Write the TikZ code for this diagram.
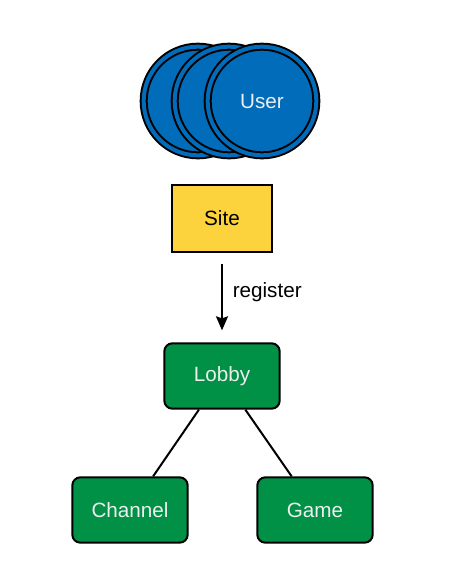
\documentclass[tikz,border=0pt]{standalone}
\usepackage{fontspec}
\setmainfont{Liberation Sans}
\usetikzlibrary{arrows.meta}
\definecolor{userblue}{RGB}{0,108,186}
\definecolor{siteyellow}{RGB}{252,211,61}
\definecolor{lobbygreen}{RGB}{0,145,70}
\definecolor{paletext}{RGB}{238,238,238}
\tikzset{
    every node/.style={font=\fontsize{15.5}{18}\selectfont},
    userdisc/.style={circle, draw=black, fill=userblue, line width=1.5pt,
        double=userblue, double distance=3pt, minimum size=81.5pt, text=paletext},
    sitebox/.style={rectangle, draw=black, fill=siteyellow, line width=1.5pt,
        minimum width=75pt, minimum height=50pt},
    greenbox/.style={rectangle, rounded corners=6pt, draw=black, fill=lobbygreen,
        line width=1.5pt, minimum width=86.5pt, minimum height=49pt, text=paletext},
    link/.style={line width=1.5pt},
}
\begin{document}
\begin{tikzpicture}[x=0.75pt, y=-0.75pt]
        \useasboundingbox (0,0) rectangle (456,582);
        % stacked user discs
        \foreach \cx/\txt [count=\i] in {198/{},229/{},262/User} {
            \node[userdisc] (user\i) at (\cx, 101) {\txt};
        }
        \node[sitebox] (site) at (222, 218.5) {Site};
        \node[greenbox] (lobby) at (222, 376) {Lobby};
        \node[greenbox] (channel) at (130, 510) {Channel};
        \node[greenbox] (game) at (315, 510) {Game};
        \draw[link, -{Stealth[length=10.5pt, width=9pt, inset=1.5pt]}, shorten <=8pt, shorten >=9pt]
            (site) -- node[pos=0.44, right=4pt] (register) {register} (lobby);
        \draw[link] (lobby) -- (channel);
        \draw[link] (lobby) -- (game);
    \end{tikzpicture}
\end{document}
